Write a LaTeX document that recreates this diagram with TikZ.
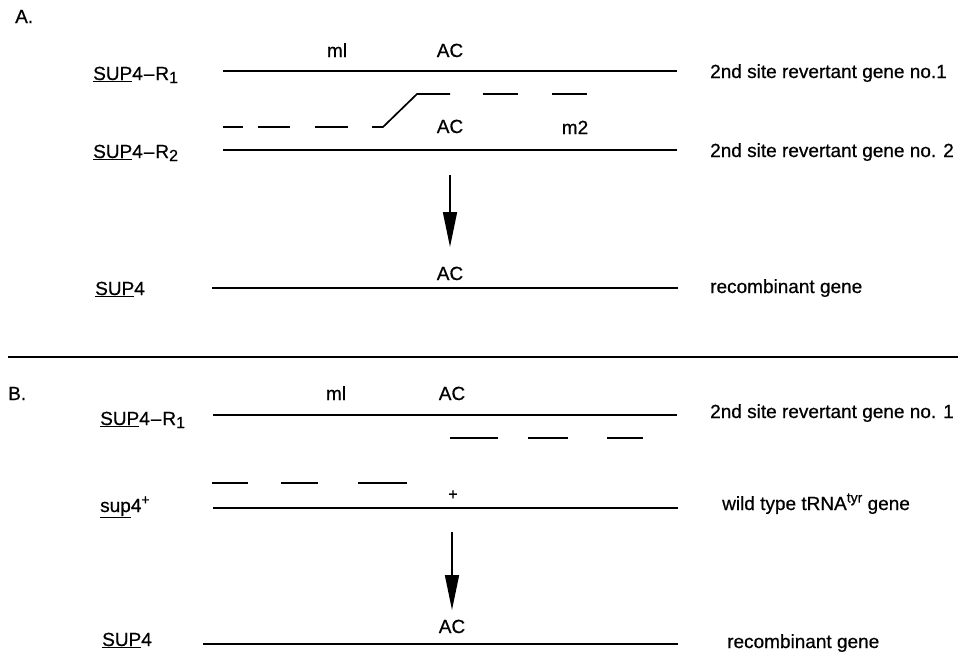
\documentclass[tikz,border=0pt]{standalone}
\usepackage{fontspec}
\setmainfont{Liberation Sans}[FakeBold=0.6]
\usetikzlibrary{arrows.meta}
\newcommand{\subone}[1]{\raisebox{-0.3ex}{\fontsize{16}{16}\selectfont #1}}
\newcommand{\supone}[1]{\raisebox{0.75ex}{\fontsize{14}{14}\selectfont #1}}
\begin{document}
\begin{tikzpicture}[x=1pt,y=-1pt,
  txt/.style={inner sep=0pt,font=\fontsize{19}{22}\selectfont},
  lbl/.style={txt,anchor=base west},
  mid/.style={txt,anchor=base},
  gene/.style={line width=1.7pt},
  frag/.style={line width=1.7pt},
  conv/.style={line width=1.7pt,-{Triangle[length=35pt,width=14pt]}}]
\useasboundingbox (0,0) rectangle (961,651);

% ---------------- Panel A ----------------
\node[lbl] (A) at (15,23) {A.};
\node[mid] (mlA) at (337,57) {ml};
\node[mid] (acA1) at (450,57) {AC};
\node[lbl] (r1A) at (93,80) {\underline{SUP}4\kern1pt--\kern1ptR\subone{1}};
\draw[gene] (223,71) -- (677,71);
\node[lbl] (r1Atxt) at (710,78) {2nd site revertant gene no.1};

\draw[frag] (223,127) -- (243,127);
\draw[frag] (258,127) -- (290,127);
\draw[frag] (315,127) -- (348,127);
\draw[frag] (372,127) -- (383,127) -- (417,94) -- (450,94);
\draw[frag] (483,94) -- (518,94);
\draw[frag] (552,94) -- (587,94);
\node[mid] (acA2) at (450,133) {AC};
\node[mid] (m2A) at (575,134) {m2};

\node[lbl] (r2A) at (93,158) {\underline{SUP}4\kern1pt--\kern1ptR\subone{2}};
\draw[gene] (223,150) -- (677,150);
\node[lbl] (r2Atxt) at (710,157) {2nd site revertant gene no. 2};

\coordinate (arA1) at (450,175);
\coordinate (arA2) at (450,247);
\draw[conv] (arA1) -- (arA2);

\node[mid] (acA3) at (450,280) {AC};
\node[lbl] (supA) at (95,295) {\underline{SUP}4};
\draw[gene] (212,288) -- (678,288);
\node[lbl] (recA) at (710,293) {recombinant gene};

% separator
\draw[gene] (8,357) -- (958,357);

% ---------------- Panel B ----------------
\node[lbl] (B) at (8,400) {B.};
\node[mid] (mlB) at (336,400) {ml};
\node[mid] (acB1) at (452,400) {AC};
\node[lbl] (r1B) at (100,425) {\underline{SUP}4\kern1pt--\kern1ptR\subone{1}};
\draw[gene] (213,415) -- (677,415);
\node[lbl] (r1Btxt) at (710,418) {2nd site revertant gene no. 1};

\draw[frag] (450,438) -- (498,438);
\draw[frag] (528,438) -- (568,438);
\draw[frag] (607,438) -- (643,438);

\draw[frag] (212,483) -- (248,483);
\draw[frag] (281,483) -- (318,483);
\draw[frag] (358,483) -- (407,483);
\node[txt] (plus) at (453,495) {\fontsize{16}{16}\selectfont +};

\node[lbl] (wtB) at (100,512) {\underline{sup}4\supone{+}};
\draw[gene] (213,508) -- (678,508);
\node[lbl] (wtBtxt) at (722,510) {wild type tRNA\supone{tyr} gene};

\coordinate (arB1) at (452,532);
\coordinate (arB2) at (452,610);
\draw[conv] (arB1) -- (arB2);

\node[mid] (acB3) at (452,633) {AC};
\node[lbl] (supB) at (102,646) {\underline{SUP}4};
\draw[gene] (203,644) -- (678,644);
\node[lbl] (recB) at (727,648) {recombinant gene};
\end{tikzpicture}
\end{document}
